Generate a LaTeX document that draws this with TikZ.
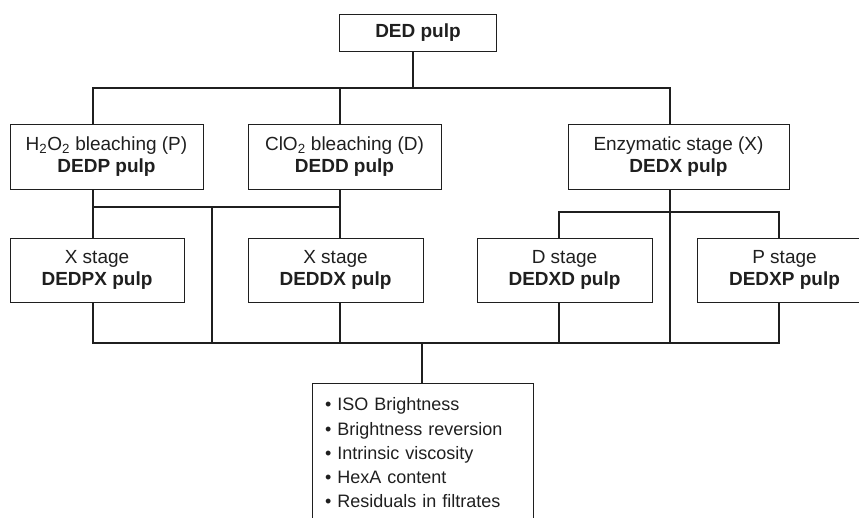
\documentclass[tikz,border=0pt]{standalone}
\usepackage{fontspec}
\setmainfont{Liberation Sans}
\usetikzlibrary{positioning}
\colorlet{ink}{black!88}
\tikzstyle{stagebox}=[draw=ink, line width=.8pt, text=ink, align=center,
  minimum height=65pt, inner sep=0pt, font=\fontsize{19}{22}\selectfont]
\tikzstyle{listbox}=[draw=ink, line width=.8pt, text=ink, align=left,
  text width=195pt, inner xsep=13pt, inner ysep=14.5pt,
  font=\fontsize{18}{24.1}\selectfont]
\tikzstyle{link}=[ink, line width=2.1pt]

\begin{document}
\begin{tikzpicture}[x=1pt, y=-1pt, on grid]
  \useasboundingbox (0,0) rectangle (859,518);
  \clip (0,0) rectangle (859,518);

  \node[stagebox, minimum width=157pt, minimum height=37pt] (ded) at (418,32.5) {\textbf{DED pulp}};
  \node[stagebox, minimum width=193pt] (p) at (106.5,156.5)
    {H\textsubscript{2}O\textsubscript{2} bleaching (P)\\\textbf{DEDP pulp}};
  \node[stagebox, minimum width=193pt, right=238pt of p] (d)
    {ClO\textsubscript{2} bleaching (D)\\\textbf{DEDD pulp}};
  \node[stagebox, minimum width=221pt, right=334pt of d] (x)
    {Enzymatic stage (X)\\\textbf{DEDX pulp}};
  \node[stagebox, minimum width=174pt, minimum height=64pt] (px) at (97,270)
    {X stage\\\textbf{DEDPX pulp}};
  \node[stagebox, minimum width=175pt, minimum height=64pt, right=238.5pt of px] (dx)
    {X stage\\\textbf{DEDDX pulp}};
  \node[stagebox, minimum width=175pt, minimum height=64pt, right=229pt of dx] (xd)
    {D stage\\\textbf{DEDXD pulp}};
  \node[stagebox, minimum width=175pt, minimum height=64pt, right=220pt of xd] (xp)
    {P stage\\\textbf{DEDXP pulp}};
  \node[listbox, anchor=north] (res) at (422.5,383)
    {• ISO Brightness\\• Brightness reversion\\• Intrinsic viscosity\\%
     • HexA content\\• Residuals in filtrates};

  % top bus
  \coordinate (t0) at (413,88);
  \coordinate (t1) at (93,88);
  \coordinate (t2) at (340,88);
  \coordinate (t3) at (670,88);
  \draw[link] (ded.south -| t0) -- (t0);
  \draw[link] (t1 |- p.north) -- (t1) -- (t3) -- (t3 |- x.north);
  \draw[link] (t2) -- (t2 |- d.north);

  % left bus
  \coordinate (m1) at (93,207);
  \coordinate (m2) at (340,207);
  \coordinate (m3) at (212,207);
  \draw[link] (p.south -| m1) -- (m1 |- px.north);
  \draw[link] (d.south -| m2) -- (m2 |- dx.north);
  \draw[link] (m1) -- (m2);

  % right bus
  \coordinate (r1) at (559,212);
  \coordinate (r2) at (779,212);
  \draw[link] (r1 |- xd.north) -- (r1) -- (r2) -- (r2 |- xp.north);

  % bottom bus
  \coordinate (b1) at (93,343);
  \coordinate (b2) at (779,343);
  \coordinate (b0) at (422,343);
  \draw[link] (b1 |- px.south) -- (b1) -- (b2) -- (b2 |- xp.south);
  \draw[link] (m3) -- (m3 |- b1);
  \draw[link] (dx.south -| m2) -- (m2 |- b1);
  \draw[link] (xd.south -| r1) -- (r1 |- b1);
  \draw[link] (x.south -| t3) -- (t3 |- b1);
  \draw[link] (b0) -- (res.north -| b0);
\end{tikzpicture}
\end{document}
